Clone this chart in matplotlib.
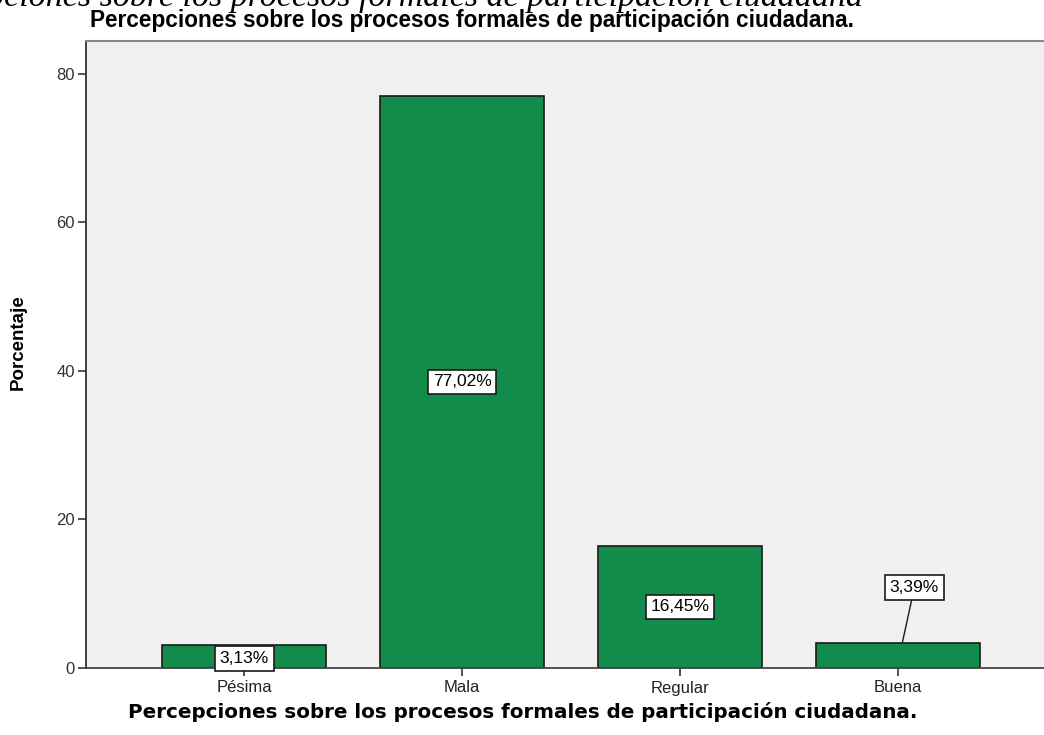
import matplotlib
matplotlib.use("Agg")
import matplotlib.pyplot as plt

categories = ["Pésima", "Mala", "Regular", "Buena"]
percentages = [3.13, 77.02, 16.45, 3.39]
labels = ["3,13%", "77,02%", "16,45%", "3,39%"]
yticks = [0, 20, 40, 60, 80]

title = "Percepciones sobre los procesos formales de participación ciudadana."
caption = "Percepciones sobre los procesos formales de participación ciudadana"

fig = plt.figure(figsize=(10.44, 7.35), dpi=100)
W, H = 1044, 735
left, right, top, bottom = 86, 1044, 41, 668
ax = fig.add_axes([left / W, 1 - bottom / H, (right - left) / W, (bottom - top) / H])
ax.set_facecolor("#f0f0f0")

x = range(len(categories))
ax.bar(x, percentages, width=0.752, color="#128c4a", edgecolor="#1a1a1a", linewidth=1.2, zorder=2)

ax.set_xlim(-0.725, 3.67)
ax.set_ylim(0, 84.4)
ax.set_xticks(list(x))
ax.set_xticklabels(categories, family="Liberation Sans", fontsize=12, color="#222222")
ax.set_yticks(yticks)
ax.set_yticklabels([str(t) for t in yticks], family="Liberation Sans", fontsize=12, color="#333333")
ax.tick_params(axis="both", direction="out", length=6, width=1.2, color="#333333", pad=2)
ax.tick_params(axis="x", pad=3)

ax.spines["left"].set_color("#333333")
ax.spines["left"].set_linewidth(1.3)
ax.spines["bottom"].set_color("#444444")
ax.spines["bottom"].set_linewidth(1.3)
ax.spines["top"].set_color("#888888")
ax.spines["top"].set_linewidth(1.5)
ax.spines["right"].set_visible(False)

# cajas de etiqueta como en SPSS
box = dict(boxstyle="square,pad=0.28", facecolor="white", edgecolor="#1a1a1a", linewidth=1.2)
for i, (v, lab) in enumerate(zip(percentages, labels)):
    if i == 3:
        ax.annotate(lab, xy=(i + 0.02, v), xytext=(i + 0.075, v + 7.4), ha="center", va="center",
                    family="Liberation Sans", fontsize=12.5, bbox=box, zorder=4,
                    arrowprops=dict(arrowstyle="-", color="#1a1a1a", lw=1.0, shrinkA=0, shrinkB=0))
    else:
        ax.text(i, v / 2 if i else 1.3, lab, ha="center", va="center", family="Liberation Sans",
                fontsize=12.5, bbox=box, zorder=4, clip_on=False)

ax.set_ylabel("Porcentaje", family="Liberation Sans", fontsize=13.5, fontweight="bold")
ax.yaxis.set_label_coords(-0.062, 0.52)

fig.text(472 / W, 1 - 20 / H, title, ha="center", va="center", family="Liberation Sans",
         fontsize=16.3, fontweight="bold")
fig.text(523 / W, 1 - 712 / H, title, ha="center", va="center", family="DejaVu Sans",
         fontsize=14.3, fontweight="bold")
fig.text(863 / W, 1 - 6 / H, caption, ha="right", va="baseline", family="Liberation Serif",
         fontsize=24.5, style="italic")

fig.savefig("out.png", dpi=100)
